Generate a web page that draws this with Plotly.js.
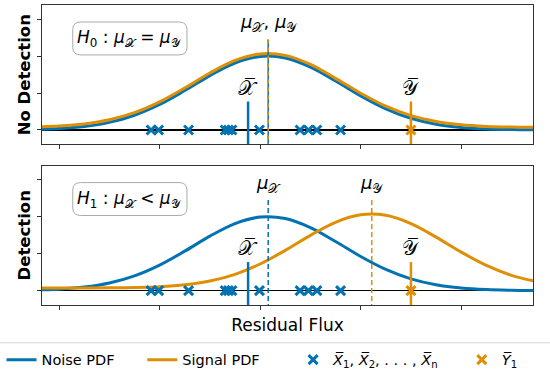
<!DOCTYPE html>
<html>
<head>
<meta charset="utf-8">
<script src="https://cdn.plot.ly/plotly-3.0.1.min.js"></script>
<style>
  html, body { margin: 0; padding: 0; background: #fff; }
  #chart { width: 550px; height: 373px; }
</style>
</head>
<body>
<div id="chart"></div>
<script>
// values (x: residual flux, y: pdf height in tick units)
var fluxGrid = [-2.25, -2.0, -1.75, -1.5, -1.25, -1.0, -0.75, -0.5, -0.25, 0.0, 0.25,
                0.5, 0.75, 1.0, 1.25, 1.5, 1.75, 2.0, 2.25, 2.5, 2.75];
var noisePdf = [0.014, 0.039, 0.094, 0.205, 0.398, 0.689, 1.066, 1.471, 1.811, 1.988, 1.948,
                1.702, 1.327, 0.923, 0.573, 0.317, 0.157, 0.069, 0.027, 0.010, 0.003];
var signalPdfNull = [0.084, 0.109, 0.164, 0.275, 0.468, 0.759, 1.136, 1.541, 1.881, 2.058, 2.018,
                     1.772, 1.397, 0.993, 0.643, 0.387, 0.227, 0.139, 0.097, 0.080, 0.073];
var signalPdfAlt = [0.070, 0.070, 0.071, 0.074, 0.082, 0.104, 0.155, 0.258, 0.439, 0.719, 1.088,
                    1.494, 1.847, 2.048, 2.035, 1.811, 1.446, 1.040, 0.681, 0.413, 0.242];
var noiseSamples = [-1.085, -1.01, -0.712, -0.348, -0.315, -0.281, -0.007, 0.397, 0.48, 0.564, 0.80];
var signalSample = [1.50];
var muNoise = 0.08;
var muSignal = 1.11;
var xBar = -0.12;
var yBar = 1.50;
var barTop = 0.77;
var muLineTop = 2.45;
var xTicks = [-2, -1, 0, 1, 2];
var yTicks = [0, 1, 2, 3];

var blue = '#0173B2';
var orange = '#DE8F05';
var font = 'DejaVu Sans';
var lineBottom = -0.6;

function zeros(arr) { return arr.map(function () { return 0; }); }

function panel(xa, ya, signalPdf, legend) {
    var traces = [];
    traces.push({
        x: fluxGrid, y: noisePdf, xaxis: xa, yaxis: ya, mode: 'lines', name: 'Noise PDF',
        line: { color: blue, width: 3, shape: 'spline' }, showlegend: legend, legend: 'legend'
    });
    traces.push({
        x: fluxGrid, y: signalPdf, xaxis: xa, yaxis: ya, mode: 'lines', name: 'Signal PDF',
        line: { color: orange, width: 3, shape: 'spline' }, showlegend: legend, legend: 'legend2'
    });
    // mean lines
    if (legend) {
        traces.push({
            x: [muNoise, muNoise], y: [muLineTop, lineBottom], xaxis: xa, yaxis: ya, mode: 'lines',
            line: { color: blue, width: 1.5 }, showlegend: false, hoverinfo: 'skip'
        });
        traces.push({
            x: [muNoise, muNoise], y: [muLineTop, lineBottom], xaxis: xa, yaxis: ya, mode: 'lines',
            line: { color: orange, width: 1.5, dash: '4px,4px' }, showlegend: false, hoverinfo: 'skip'
        });
    } else {
        traces.push({
            x: [muNoise, muNoise], y: [muLineTop, lineBottom], xaxis: xa, yaxis: ya, mode: 'lines',
            line: { color: blue, width: 1.5, dash: '5px,3px' }, showlegend: false, hoverinfo: 'skip'
        });
        traces.push({
            x: [muSignal, muSignal], y: [muLineTop, lineBottom], xaxis: xa, yaxis: ya, mode: 'lines',
            line: { color: orange, width: 1.5, dash: '5px,3px' }, showlegend: false, hoverinfo: 'skip'
        });
    }
    // sample mean bars
    traces.push({
        x: [xBar, xBar], y: [barTop, lineBottom], xaxis: xa, yaxis: ya, mode: 'lines',
        line: { color: blue, width: 2.5 }, showlegend: false, hoverinfo: 'skip'
    });
    traces.push({
        x: [yBar, yBar], y: [barTop, lineBottom], xaxis: xa, yaxis: ya, mode: 'lines',
        line: { color: orange, width: 2.5 }, showlegend: false, hoverinfo: 'skip'
    });
    traces.push({
        x: noiseSamples, y: zeros(noiseSamples), xaxis: xa, yaxis: ya, mode: 'markers',
        name: '<i>X̅</i><sub>1</sub>, <i>X̅</i><sub>2</sub>, . . . , <i>X̅</i><sub>n</sub>',
        marker: { symbol: 'x-thin', size: 9, line: { color: blue, width: 3 } },
        showlegend: legend, legend: 'legend3'
    });
    traces.push({
        x: signalSample, y: zeros(signalSample), xaxis: xa, yaxis: ya, mode: 'markers',
        name: '<i>Y̅</i><sub>1</sub>',
        marker: { symbol: 'x-thin', size: 9, line: { color: orange, width: 3 } },
        showlegend: legend, legend: 'legend4'
    });
    return traces;
}

var data = panel('x2', 'y2', signalPdfNull, true).concat(panel('x', 'y', signalPdfAlt, false));

function boxPath(x0, x1, y0, y1, rx, ry) {
    return 'M' + (x0 + rx) + ',' + y1 + ' L' + (x1 - rx) + ',' + y1 +
        ' Q' + x1 + ',' + y1 + ' ' + x1 + ',' + (y1 - ry) +
        ' L' + x1 + ',' + (y0 + ry) + ' Q' + x1 + ',' + y0 + ' ' + (x1 - rx) + ',' + y0 +
        ' L' + (x0 + rx) + ',' + y0 + ' Q' + x0 + ',' + y0 + ' ' + x0 + ',' + (y0 + ry) +
        ' L' + x0 + ',' + (y1 - ry) + ' Q' + x0 + ',' + y1 + ' ' + (x0 + rx) + ',' + y1 + ' Z';
}

var axisX = {
    range: [-2.17, 2.714], tickvals: xTicks, showticklabels: false, ticks: 'outside', ticklen: 4,
    tickcolor: '#333', showline: true, linecolor: '#333', linewidth: 1, mirror: true,
    showgrid: false, zeroline: false
};
var axisY = {
    range: [-0.39, 3.38], tickvals: yTicks, showticklabels: false, ticks: 'outside', ticklen: 4,
    tickcolor: '#333', showline: true, linecolor: '#333', linewidth: 1, mirror: true,
    showgrid: false, zeroline: true, zerolinecolor: '#000', zerolinewidth: 1.5
};

function ann(text, xr, yr, x, y, size) {
    return { text: text, xref: xr, yref: yr, x: x, y: y, showarrow: false,
        font: { family: font, size: size, color: '#000' } };
}

function legendAt(x) {
    return { orientation: 'h', x: x, xanchor: 'left', y: -0.1825, yanchor: 'middle',
        bgcolor: 'rgba(0,0,0,0)', borderwidth: 0, font: { family: font, size: 14.5 } };
}

var layout = {
    width: 550, height: 373,
    margin: { l: 41.5, r: 16.7, t: 5, b: 67.8, autoexpand: false },
    paper_bgcolor: '#fff', plot_bgcolor: '#fff',
    font: { family: font, color: '#000' },
    xaxis: Object.assign({}, axisX, { anchor: 'y',
        title: { text: 'Residual Flux', font: { size: 17 }, standoff: 10 } }),
    xaxis2: Object.assign({}, axisX, { anchor: 'y2' }),
    yaxis: Object.assign({}, axisY, { domain: [0, 0.4647], anchor: 'x',
        title: { text: '<b>Detection</b>', font: { size: 16.5 }, standoff: 2 } }),
    yaxis2: Object.assign({}, axisY, { domain: [0.5353, 1], anchor: 'x2',
        title: { text: '<b>No Detection</b>', font: { size: 16.5 }, standoff: 2 } }),
    shapes: [
        { type: 'path', xref: 'x2', yref: 'y2', path: boxPath(-1.864, -0.728, 2.03, 2.92, 0.08, 0.2),
          line: { color: '#aaa', width: 1 }, fillcolor: 'rgba(255,255,255,0.8)' },
        { type: 'path', xref: 'x', yref: 'y', path: boxPath(-1.864, -0.728, 2.03, 2.92, 0.08, 0.2),
          line: { color: '#aaa', width: 1 }, fillcolor: 'rgba(255,255,255,0.8)' },
        // legend frame, runs off the canvas like the reference
        { type: 'rect', xref: 'paper', yref: 'paper', x0: -0.2, x1: 1.2, y0: -0.5, y1: -0.1259,
          line: { color: '#d4d4d4', width: 1 }, fillcolor: 'rgba(0,0,0,0)' }
    ],
    annotations: [
        ann('<i>H</i><sub>0</sub> : <i>μ</i><sub>𝒳</sub> = <i>μ</i><sub>𝒴</sub>', 'x2', 'y2', -1.296, 2.47, 17),
        ann('<i>H</i><sub>1</sub> : <i>μ</i><sub>𝒳</sub> &lt; <i>μ</i><sub>𝒴</sub>', 'x', 'y', -1.296, 2.47, 17),
        ann('<i>μ</i><sub>𝒳</sub>, <i>μ</i><sub>𝒴</sub>', 'x2', 'y2', muNoise, 2.88, 18),
        ann('<i>μ</i><sub>𝒳</sub>', 'x', 'y', muNoise, 2.88, 18),
        ann('<i>μ</i><sub>𝒴</sub>', 'x', 'y', muSignal, 2.88, 18),
        ann('𝒳̅', 'x2', 'y2', xBar, 1.14, 20),
        ann('𝒴̅', 'x2', 'y2', yBar, 1.14, 20),
        ann('𝒳̅', 'x', 'y', xBar, 1.14, 20),
        ann('𝒴̅', 'x', 'y', yBar, 1.14, 20)
    ],
    legend: legendAt(-0.0824),
    legend2: legendAt(0.2043),
    legend3: legendAt(0.5114),
    legend4: legendAt(0.8550),
    showlegend: true
};

Plotly.newPlot('chart', data, layout, { displayModeBar: false, staticPlot: true });
</script>
</body>
</html>
